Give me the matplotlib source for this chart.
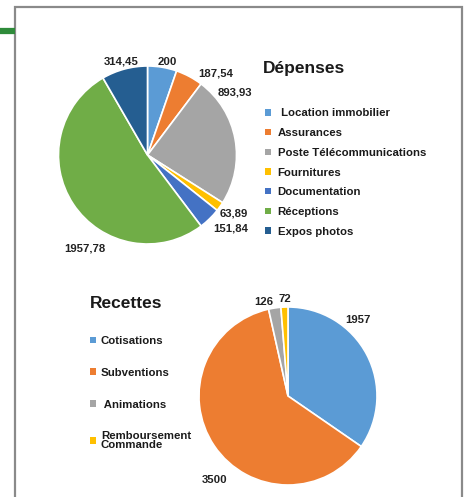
import matplotlib
matplotlib.use("Agg")
import matplotlib.pyplot as plt
from matplotlib.patches import Rectangle
from matplotlib.lines import Line2D

plt.rcParams['font.family'] = ['Liberation Sans', 'DejaVu Sans']

# ---- data ----
dep_labels = [" Location immobilier", "Assurances", "Poste Télécommunications",
              "Fournitures", "Documentation", "Réceptions", "Expos photos"]
dep_values = [200, 187.54, 893.93, 63.89, 151.84, 1957.78, 314.45]
dep_colors = ["#5B9BD5", "#ED7D31", "#A5A5A5", "#FFC000", "#4472C4", "#70AD47", "#255E91"]

rec_labels = ["Cotisations", "Subventions", " Animations", "Remboursement\nCommande"]
rec_values = [1957, 3500, 126, 72]
rec_colors = ["#5B9BD5", "#ED7D31", "#A5A5A5", "#FFC000"]

def fr(v):
    s = f"{v:.2f}".rstrip("0").rstrip(".")
    return s.replace(".", ",")

# label positions (in pie-radius units, relative to centre) - layout only
dep_lab_pos = [(0.22, 1.05), (0.77, 0.92), (0.98, 0.70), (0.97, -0.66),
               (0.93, -0.83), (-0.70, -1.05), (-0.30, 1.05)]
rec_lab_pos = [(0.79, 0.85), (-0.82, -0.94), (-0.27, 1.06), (-0.03, 1.09)]

W, H = 467, 497
fig = plt.figure(figsize=(W / 100, H / 100), dpi=100)
fig.patch.set_facecolor("white")

def px_axes(cx, cy, r):
    return fig.add_axes([(cx - r) / W, 1 - (cy + r) / H, 2 * r / W, 2 * r / H])

def draw_pie(ax, values, colors, labpos):
    wedges, _ = ax.pie(values, colors=colors, startangle=90, counterclock=False,
                       radius=1.0, wedgeprops=dict(edgecolor="white", linewidth=1.2))
    ax.set_aspect("auto")
    ax.set_xlim(-1, 1)
    ax.set_ylim(-1, 1)
    ax.axis("off")
    for v, (x, y) in zip(values, labpos):
        ax.text(x, y, fr(v), ha="center", va="center", fontsize=8.2,
                fontweight="bold", color="#222222", clip_on=False)
    return wedges

# top pie
ax1 = px_axes(147.5, 155, 89)
w1 = draw_pie(ax1, dep_values, dep_colors, dep_lab_pos)

# bottom pie
ax2 = px_axes(288, 396, 89)
w2 = draw_pie(ax2, rec_values, rec_colors, rec_lab_pos)

# titles
fig.text(263 / W, 1 - 68 / H, "Dépenses", fontsize=12.5, fontweight="bold",
         ha="left", va="center", color="#1a1a1a")
fig.text(90 / W, 1 - 303 / H, "Recettes", fontsize=12.5, fontweight="bold",
         ha="left", va="center", color="#1a1a1a")

# legends
leg1 = fig.legend(w1, dep_labels, loc="upper left",
                  bbox_to_anchor=(265 / W, 1 - 108.5 / H), frameon=False,
                  prop=dict(size=8.2, weight="bold"), handlelength=0.5,
                  handleheight=0.5, handletextpad=0.6, labelspacing=0.85,
                  borderpad=0, borderaxespad=0)
for t in leg1.get_texts():
    t.set_color("#1a1a1a")
for h in leg1.legend_handles:
    h.set_edgecolor("none")

leg2 = fig.legend(w2, rec_labels, loc="upper left",
                  bbox_to_anchor=(90 / W, 1 - 336 / H), frameon=False,
                  prop=dict(size=8.2, weight="bold"), handlelength=0.5,
                  handleheight=0.5, handletextpad=0.45, labelspacing=1.91,
                  borderpad=0, borderaxespad=0)
for t in leg2.get_texts():
    t.set_color("#1a1a1a")
    t.set_linespacing(0.85)
for h in leg2.legend_handles:
    h.set_edgecolor("none")

# frame and green accent
fig.patches.append(Rectangle((15 / W, -0.05), (462 - 15) / W, 1.05 - 7 / H,
                             transform=fig.transFigure, fill=False,
                             edgecolor="#8a8a8a", linewidth=1.6))
fig.lines.append(Line2D([0, 15 / W], [1 - 30.5 / H] * 2, transform=fig.transFigure,
                        color="#2e8b3a", linewidth=4.5, solid_capstyle="butt"))

fig.savefig("out.png", dpi=100)
